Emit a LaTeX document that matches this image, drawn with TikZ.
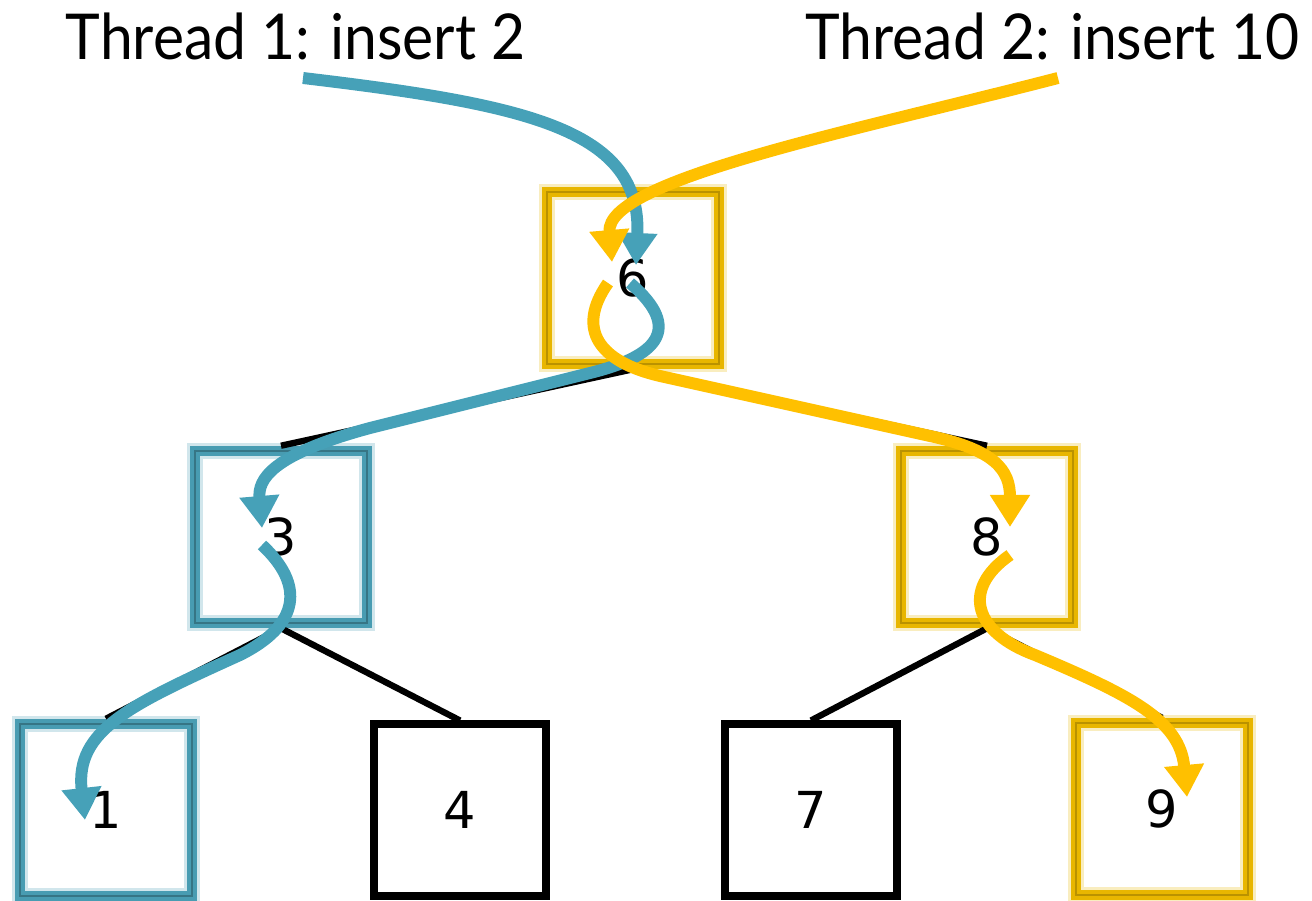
\documentclass[tikz,border=0pt]{standalone}
\usepackage{fontspec}
\setmainfont{Lato}
\newfontfamily\digitfont{DejaVu Sans}
\usepackage{tikz}
\usetikzlibrary{arrows.meta}
\usetikzlibrary{calc}
\definecolor{threadblue}{RGB}{70,161,184}
\definecolor{threadgold}{RGB}{255,192,0}
\definecolor{boxblue}{RGB}{72,156,178}
\definecolor{boxgold}{RGB}{232,182,0}
\tikzstyle{title} = [inner sep=0pt, font=\fontsize{18}{22}\selectfont]
\tikzstyle{key} = [draw, minimum size=1.72cm, line width=2pt, font=\digitfont\fontsize{14.5}{17}\selectfont]
\tikzstyle{bluekey} = [key, draw=boxblue, line width=3pt, preaction={draw=boxblue, draw opacity=0.25, line width=4.5pt}, postaction={draw=boxblue!75!black, line width=0.5pt}]
\tikzstyle{goldkey} = [key, draw=boxgold, line width=3pt, preaction={draw=boxgold, draw opacity=0.25, line width=4.5pt}, postaction={draw=boxgold!80!black, line width=0.5pt}]
\tikzstyle{edge} = [draw, line width=1.8pt]
\tikzstyle{walk} = [draw, line width=3.4pt]
\tikzstyle{walkend} = [walk, -{Triangle[width=0.38cm,length=0.32cm]}]

\begin{document}
\begin{tikzpicture}
	\useasboundingbox (0,0) rectangle (13.12,-9.01);
	% -------------- thread labels --------------
	\node[title, anchor=base west] (t1) at (0.65,-0.60) {\scalebox{0.93}[1]{Thread 1: insert 2}};
	\node[title, anchor=base east] (t2) at (13.0,-0.60) {\scalebox{0.93}[1]{Thread 2: insert 10}};
	\coordinate (s1) at (3.03,-0.78);
	\coordinate (s2) at (10.58,-0.78);
	% -------------- tree --------------
	\node[goldkey] (n6) at (6.33,-2.78) {6};
	\node[bluekey] (n3) at (2.81,-5.37) {3};
	\node[goldkey] (n8) at (9.87,-5.37) {8};
	\node[bluekey] (n1) at (1.06,-8.10) {1};
	\node[key]     (n4) at (4.60,-8.10) {4};
	\node[key]     (n7) at (8.11,-8.10) {7};
	\node[goldkey] (n9) at (11.62,-8.09) {9};
	\draw[edge] (n6.south) -- (n3.north);
	\draw[edge] (n6.south) -- (n8.north);
	\draw[edge] (n3.south) -- (n1.north);
	\draw[edge] (n3.south) -- (n4.north);
	\draw[edge] (n8.south) -- (n7.north);
	\draw[edge] (n8.south) -- (n9.north);
	% -------------- Thread 1 --------------
	\draw[walkend, threadblue] (s1) .. controls (5.3,-1.05) and ($(n6)+(0.09,1.48)$) .. ($(n6)+(0.03,0.13)$);
	\draw[walkend, threadblue] ($(n6)+(-0.03,-0.05)$) .. controls ($(n6)+(0.52,-0.52)$) and ($(n6)+(0.22,-0.79)$) .. ($(n6)+(-0.43,-0.95)$)
		-- ($(n3)+(0.89,1.09)$) .. controls ($(n3)+(-0.11,0.82)$) and ($(n3)+(-0.23,0.57)$) .. ($(n3)+(-0.19,0.09)$);
	\draw[walkend, threadblue] ($(n3)+(-0.19,-0.08)$) .. controls ($(n3)+(0.24,-0.48)$) and ($(n3)+(0.19,-0.88)$) .. ($(n3)+(-0.41,-1.18)$)
		.. controls ($(n1)+(0.24,1.05)$) and ($(n1)+(-0.31,0.80)$) .. ($(n1)+(-0.21,-0.10)$);
	% -------------- Thread 2 --------------
	\draw[walkend, threadgold] (s2) .. controls (8.5,-1.32) and ($(n6)+(-0.28,0.98)$) .. ($(n6)+(-0.21,0.16)$);
	\draw[walkend, threadgold] ($(n6)+(-0.25,-0.05)$) .. controls ($(n6)+(-0.58,-0.52)$) and ($(n6)+(-0.33,-0.84)$) .. ($(n6)+(0.27,-0.98)$)
		-- ($(n8)+(-0.57,1.01)$) .. controls ($(n8)+(0.08,0.87)$) and ($(n8)+(0.23,0.67)$) .. ($(n8)+(0.23,0.10)$);
	\draw[walkend, threadgold] ($(n8)+(0.23,-0.18)$) .. controls ($(n8)+(-0.27,-0.53)$) and ($(n8)+(-0.12,-0.96)$) .. ($(n8)+(0.48,-1.18)$)
		.. controls ($(n9)+(-0.32,1.14)$) and ($(n9)+(0.18,0.89)$) .. ($(n9)+(0.25,0.12)$);
\end{tikzpicture}
\end{document}
